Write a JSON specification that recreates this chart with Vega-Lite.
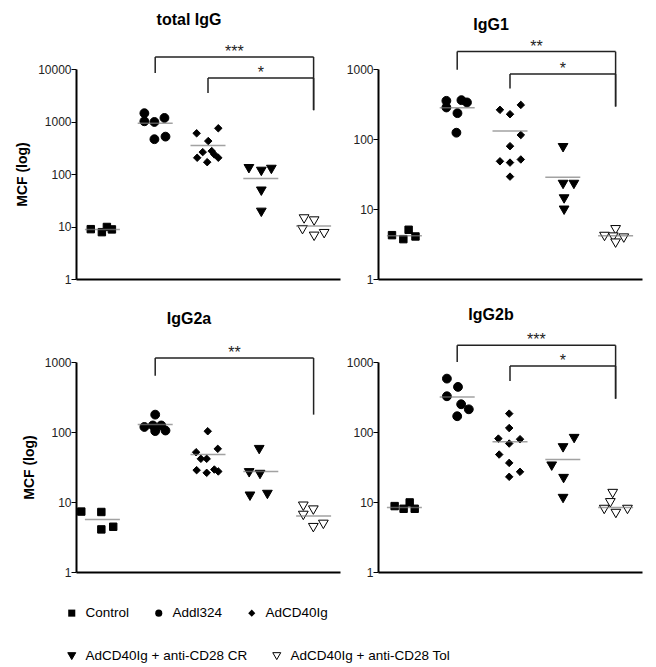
{
  "$schema": "https://vega.github.io/schema/vega-lite/v6.json",
  "background": "white",
  "padding": {"left": 15, "top": 11, "right": 5, "bottom": 2},
  "config": {
    "view": {"stroke": null},
    "font": "Liberation Sans",
    "axis": {"grid": false, "domainColor": "black", "domainWidth": 2, "tickColor": "black", "tickSize": 5, "labelFont": "Liberation Sans", "labelFontSize": 12, "labelColor": "#222", "labelPadding": 0, "titleFont": "Liberation Sans", "titleFontSize": 14, "titleFontWeight": "bold", "titleColor": "black", "titlePadding": 8},
    "title": {"font": "Liberation Sans", "fontSize": 16, "fontWeight": "bold", "color": "black", "dx": -19},
    "legend": {"labelFont": "Liberation Sans", "labelFontSize": 13.5, "labelColor": "black", "labelLimit": 0, "labelOffset": 7, "columnPadding": 22, "symbolStrokeColor": "black", "symbolStrokeWidth": 1, "symbolOpacity": 1}
  },
  "datasets": {
    "pts": [
      {"panel": "total IgG", "group": "Control", "value": 8.9, "j": -0.44},
      {"panel": "total IgG", "group": "Control", "value": 7.8, "j": -0.02},
      {"panel": "total IgG", "group": "Control", "value": 9.8, "j": 0.17},
      {"panel": "total IgG", "group": "Control", "value": 8.8, "j": 0.36},
      {"panel": "total IgG", "group": "Addl324", "value": 1440, "j": -0.41},
      {"panel": "total IgG", "group": "Addl324", "value": 1010, "j": -0.41},
      {"panel": "total IgG", "group": "Addl324", "value": 980, "j": -0.03},
      {"panel": "total IgG", "group": "Addl324", "value": 1170, "j": 0.35},
      {"panel": "total IgG", "group": "Addl324", "value": 460, "j": -0.03},
      {"panel": "total IgG", "group": "Addl324", "value": 515, "j": 0.39},
      {"panel": "total IgG", "group": "AdCD40Ig", "value": 596, "j": -0.43},
      {"panel": "total IgG", "group": "AdCD40Ig", "value": 743, "j": 0.39},
      {"panel": "total IgG", "group": "AdCD40Ig", "value": 424, "j": 0.01},
      {"panel": "total IgG", "group": "AdCD40Ig", "value": 261, "j": -0.2},
      {"panel": "total IgG", "group": "AdCD40Ig", "value": 204, "j": -0.41},
      {"panel": "total IgG", "group": "AdCD40Ig", "value": 273, "j": 0.14},
      {"panel": "total IgG", "group": "AdCD40Ig", "value": 236, "j": 0.24},
      {"panel": "total IgG", "group": "AdCD40Ig", "value": 168, "j": -0.03},
      {"panel": "total IgG", "group": "AdCD40Ig", "value": 204, "j": 0.39},
      {"panel": "total IgG", "group": "AdCD40Ig + anti-CD28 CR", "value": 126, "j": -0.45},
      {"panel": "total IgG", "group": "AdCD40Ig + anti-CD28 CR", "value": 112, "j": 0.02},
      {"panel": "total IgG", "group": "AdCD40Ig + anti-CD28 CR", "value": 122, "j": 0.4},
      {"panel": "total IgG", "group": "AdCD40Ig + anti-CD28 CR", "value": 47, "j": 0.02},
      {"panel": "total IgG", "group": "AdCD40Ig + anti-CD28 CR", "value": 18.6, "j": 0.02},
      {"panel": "total IgG", "group": "AdCD40Ig + anti-CD28 Tol", "value": 13.9, "j": -0.36},
      {"panel": "total IgG", "group": "AdCD40Ig + anti-CD28 Tol", "value": 12.7, "j": 0.02},
      {"panel": "total IgG", "group": "AdCD40Ig + anti-CD28 Tol", "value": 8.7, "j": -0.42},
      {"panel": "total IgG", "group": "AdCD40Ig + anti-CD28 Tol", "value": 6.5, "j": 0.02},
      {"panel": "total IgG", "group": "AdCD40Ig + anti-CD28 Tol", "value": 7.3, "j": 0.4},

      {"panel": "IgG1", "group": "Control", "value": 4.23, "j": -0.47},
      {"panel": "IgG1", "group": "Control", "value": 3.71, "j": -0.04},
      {"panel": "IgG1", "group": "Control", "value": 5.05, "j": 0.16},
      {"panel": "IgG1", "group": "Control", "value": 4.05, "j": 0.42},
      {"panel": "IgG1", "group": "Addl324", "value": 351, "j": -0.41},
      {"panel": "IgG1", "group": "Addl324", "value": 282, "j": -0.41},
      {"panel": "IgG1", "group": "Addl324", "value": 359, "j": 0.16},
      {"panel": "IgG1", "group": "Addl324", "value": 333, "j": 0.37},
      {"panel": "IgG1", "group": "Addl324", "value": 234, "j": 0.01},
      {"panel": "IgG1", "group": "Addl324", "value": 123, "j": -0.03},
      {"panel": "IgG1", "group": "AdCD40Ig", "value": 261, "j": -0.38},
      {"panel": "IgG1", "group": "AdCD40Ig", "value": 226, "j": 0},
      {"panel": "IgG1", "group": "AdCD40Ig", "value": 307, "j": 0.41},
      {"panel": "IgG1", "group": "AdCD40Ig", "value": 114, "j": 0.41},
      {"panel": "IgG1", "group": "AdCD40Ig", "value": 79, "j": 0},
      {"panel": "IgG1", "group": "AdCD40Ig", "value": 48, "j": -0.38},
      {"panel": "IgG1", "group": "AdCD40Ig", "value": 46, "j": 0},
      {"panel": "IgG1", "group": "AdCD40Ig", "value": 51, "j": 0.41},
      {"panel": "IgG1", "group": "AdCD40Ig", "value": 29, "j": 0},
      {"panel": "IgG1", "group": "AdCD40Ig + anti-CD28 CR", "value": 75, "j": 0.01},
      {"panel": "IgG1", "group": "AdCD40Ig + anti-CD28 CR", "value": 22.4, "j": 0.01},
      {"panel": "IgG1", "group": "AdCD40Ig + anti-CD28 CR", "value": 22.4, "j": 0.42},
      {"panel": "IgG1", "group": "AdCD40Ig + anti-CD28 CR", "value": 13.9, "j": 0.05},
      {"panel": "IgG1", "group": "AdCD40Ig + anti-CD28 CR", "value": 9.6, "j": 0.05},
      {"panel": "IgG1", "group": "AdCD40Ig + anti-CD28 Tol", "value": 5.05, "j": 0},
      {"panel": "IgG1", "group": "AdCD40Ig + anti-CD28 Tol", "value": 4.05, "j": -0.42},
      {"panel": "IgG1", "group": "AdCD40Ig + anti-CD28 Tol", "value": 3.97, "j": -0.09},
      {"panel": "IgG1", "group": "AdCD40Ig + anti-CD28 Tol", "value": 3.84, "j": 0.31},
      {"panel": "IgG1", "group": "AdCD40Ig + anti-CD28 Tol", "value": 3.25, "j": 0},

      {"panel": "IgG2a", "group": "Control", "value": 7.3, "j": -0.8},
      {"panel": "IgG2a", "group": "Control", "value": 7.2, "j": -0.04},
      {"panel": "IgG2a", "group": "Control", "value": 4.06, "j": -0.04},
      {"panel": "IgG2a", "group": "Control", "value": 4.43, "j": 0.41},
      {"panel": "IgG2a", "group": "Addl324", "value": 118, "j": -0.41},
      {"panel": "IgG2a", "group": "Addl324", "value": 177, "j": 0},
      {"panel": "IgG2a", "group": "Addl324", "value": 124, "j": -0.09},
      {"panel": "IgG2a", "group": "Addl324", "value": 103, "j": 0},
      {"panel": "IgG2a", "group": "Addl324", "value": 105, "j": 0.39},
      {"panel": "IgG2a", "group": "Addl324", "value": 124, "j": 0.23},
      {"panel": "IgG2a", "group": "AdCD40Ig", "value": 102.5, "j": -0.01},
      {"panel": "IgG2a", "group": "AdCD40Ig", "value": 51.4, "j": -0.45},
      {"panel": "IgG2a", "group": "AdCD40Ig", "value": 57.5, "j": 0.37},
      {"panel": "IgG2a", "group": "AdCD40Ig", "value": 41.4, "j": -0.27},
      {"panel": "IgG2a", "group": "AdCD40Ig", "value": 41.4, "j": -0.05},
      {"panel": "IgG2a", "group": "AdCD40Ig", "value": 28.5, "j": -0.43},
      {"panel": "IgG2a", "group": "AdCD40Ig", "value": 26.1, "j": -0.05},
      {"panel": "IgG2a", "group": "AdCD40Ig", "value": 29.1, "j": 0.24},
      {"panel": "IgG2a", "group": "AdCD40Ig", "value": 27.3, "j": 0.39},
      {"panel": "IgG2a", "group": "AdCD40Ig + anti-CD28 CR", "value": 56, "j": -0.06},
      {"panel": "IgG2a", "group": "AdCD40Ig + anti-CD28 CR", "value": 26.1, "j": -0.44},
      {"panel": "IgG2a", "group": "AdCD40Ig + anti-CD28 CR", "value": 24.7, "j": -0.03},
      {"panel": "IgG2a", "group": "AdCD40Ig + anti-CD28 CR", "value": 12.1, "j": -0.41},
      {"panel": "IgG2a", "group": "AdCD40Ig + anti-CD28 CR", "value": 12.8, "j": 0.25},
      {"panel": "IgG2a", "group": "AdCD40Ig + anti-CD28 Tol", "value": 8.7, "j": -0.39},
      {"panel": "IgG2a", "group": "AdCD40Ig + anti-CD28 Tol", "value": 7.66, "j": -0.01},
      {"panel": "IgG2a", "group": "AdCD40Ig + anti-CD28 Tol", "value": 6.43, "j": -0.39},
      {"panel": "IgG2a", "group": "AdCD40Ig + anti-CD28 Tol", "value": 4.3, "j": -0.01},
      {"panel": "IgG2a", "group": "AdCD40Ig + anti-CD28 Tol", "value": 4.79, "j": 0.37},

      {"panel": "IgG2b", "group": "Control", "value": 8.74, "j": -0.37},
      {"panel": "IgG2b", "group": "Control", "value": 8.0, "j": -0.03},
      {"panel": "IgG2b", "group": "Control", "value": 9.86, "j": 0.2},
      {"panel": "IgG2b", "group": "Control", "value": 8.0, "j": 0.39},
      {"panel": "IgG2b", "group": "Addl324", "value": 579, "j": -0.39},
      {"panel": "IgG2b", "group": "Addl324", "value": 441, "j": 0.03},
      {"panel": "IgG2b", "group": "Addl324", "value": 324, "j": -0.39},
      {"panel": "IgG2b", "group": "Addl324", "value": 249, "j": 0.15},
      {"panel": "IgG2b", "group": "Addl324", "value": 211, "j": 0.44},
      {"panel": "IgG2b", "group": "Addl324", "value": 168, "j": 0},
      {"panel": "IgG2b", "group": "AdCD40Ig", "value": 183, "j": -0.03},
      {"panel": "IgG2b", "group": "AdCD40Ig", "value": 114, "j": -0.03},
      {"panel": "IgG2b", "group": "AdCD40Ig", "value": 80.5, "j": -0.44},
      {"panel": "IgG2b", "group": "AdCD40Ig", "value": 68.4, "j": -0.03},
      {"panel": "IgG2b", "group": "AdCD40Ig", "value": 78.9, "j": 0.38},
      {"panel": "IgG2b", "group": "AdCD40Ig", "value": 47.6, "j": -0.41},
      {"panel": "IgG2b", "group": "AdCD40Ig", "value": 36.2, "j": -0.03},
      {"panel": "IgG2b", "group": "AdCD40Ig", "value": 27, "j": 0.38},
      {"panel": "IgG2b", "group": "AdCD40Ig", "value": 22.9, "j": -0.03},
      {"panel": "IgG2b", "group": "AdCD40Ig + anti-CD28 CR", "value": 80.5, "j": 0.43},
      {"panel": "IgG2b", "group": "AdCD40Ig + anti-CD28 CR", "value": 59.3, "j": 0.01},
      {"panel": "IgG2b", "group": "AdCD40Ig + anti-CD28 CR", "value": 32.5, "j": -0.42},
      {"panel": "IgG2b", "group": "AdCD40Ig + anti-CD28 CR", "value": 21.6, "j": 0.03},
      {"panel": "IgG2b", "group": "AdCD40Ig + anti-CD28 CR", "value": 11.2, "j": 0.01},
      {"panel": "IgG2b", "group": "AdCD40Ig + anti-CD28 Tol", "value": 13.2, "j": -0.11},
      {"panel": "IgG2b", "group": "AdCD40Ig + anti-CD28 Tol", "value": 9.74, "j": -0.2},
      {"panel": "IgG2b", "group": "AdCD40Ig + anti-CD28 Tol", "value": 7.82, "j": -0.43},
      {"panel": "IgG2b", "group": "AdCD40Ig + anti-CD28 Tol", "value": 6.85, "j": 0.01},
      {"panel": "IgG2b", "group": "AdCD40Ig + anti-CD28 Tol", "value": 7.82, "j": 0.45}
    ],
    "means": [
      {"panel": "total IgG", "group": "Control", "mean": 8.8},
      {"panel": "total IgG", "group": "Addl324", "mean": 926},
      {"panel": "total IgG", "group": "AdCD40Ig", "mean": 350},
      {"panel": "total IgG", "group": "AdCD40Ig + anti-CD28 CR", "mean": 82},
      {"panel": "total IgG", "group": "AdCD40Ig + anti-CD28 Tol", "mean": 10.2},
      {"panel": "IgG1", "group": "Control", "mean": 4.14},
      {"panel": "IgG1", "group": "Addl324", "mean": 280},
      {"panel": "IgG1", "group": "AdCD40Ig", "mean": 130},
      {"panel": "IgG1", "group": "AdCD40Ig + anti-CD28 CR", "mean": 28.5},
      {"panel": "IgG1", "group": "AdCD40Ig + anti-CD28 Tol", "mean": 4.14},
      {"panel": "IgG2a", "group": "Control", "mean": 5.64},
      {"panel": "IgG2a", "group": "Addl324", "mean": 128},
      {"panel": "IgG2a", "group": "AdCD40Ig", "mean": 47.7},
      {"panel": "IgG2a", "group": "AdCD40Ig + anti-CD28 CR", "mean": 27.3},
      {"panel": "IgG2a", "group": "AdCD40Ig + anti-CD28 Tol", "mean": 6.3},
      {"panel": "IgG2b", "group": "Control", "mean": 8.37},
      {"panel": "IgG2b", "group": "Addl324", "mean": 317},
      {"panel": "IgG2b", "group": "AdCD40Ig", "mean": 72.3},
      {"panel": "IgG2b", "group": "AdCD40Ig + anti-CD28 CR", "mean": 40.4},
      {"panel": "IgG2b", "group": "AdCD40Ig + anti-CD28 Tol", "mean": 8.35}
    ],
    "br": [
      {"panel": "total IgG", "from": "Addl324", "to": "AdCD40Ig + anti-CD28 Tol", "top": 16980, "leftEnd": 8380, "rightEnd": 1641, "label": "***", "labelAt": "AdCD40Ig", "lj": 1},
      {"panel": "total IgG", "from": "AdCD40Ig", "to": "AdCD40Ig + anti-CD28 Tol", "top": 6726, "leftEnd": 3473, "rightEnd": 1641, "label": "*", "labelAt": "AdCD40Ig + anti-CD28 CR", "lj": 0},
      {"panel": "IgG1", "from": "Addl324", "to": "AdCD40Ig + anti-CD28 Tol", "top": 1771, "leftEnd": 977, "rightEnd": 291, "label": "**", "labelAt": "AdCD40Ig", "lj": 1},
      {"panel": "IgG1", "from": "AdCD40Ig", "to": "AdCD40Ig + anti-CD28 Tol", "top": 847, "leftEnd": 528, "rightEnd": 291, "label": "*", "labelAt": "AdCD40Ig + anti-CD28 CR", "lj": 0},
      {"panel": "IgG2a", "from": "Addl324", "to": "AdCD40Ig + anti-CD28 Tol", "top": 1140, "leftEnd": 638, "rightEnd": 177, "label": "**", "labelAt": "AdCD40Ig", "lj": 1},
      {"panel": "IgG2b", "from": "Addl324", "to": "AdCD40Ig + anti-CD28 Tol", "top": 1730, "leftEnd": 1000, "rightEnd": 299, "label": "***", "labelAt": "AdCD40Ig", "lj": 1},
      {"panel": "IgG2b", "from": "AdCD40Ig", "to": "AdCD40Ig + anti-CD28 Tol", "top": 877, "leftEnd": 536, "rightEnd": 299, "label": "*", "labelAt": "AdCD40Ig + anti-CD28 CR", "lj": 0}
    ]
  },
  "concat": [
    {
      "width": 264, "height": 210,
      "title": {"text": "total IgG", "offset": 16},
      "layer": [
        {"data": {"name": "pts"}, "transform": [{"filter": "datum.panel == 'total IgG'"}],
         "mark": {"type": "point", "opacity": 1, "stroke": "black", "strokeWidth": 1},
         "encoding": {
           "x": {"field": "group", "type": "nominal", "title": null, "scale": {"type": "band", "domain": ["Control", "Addl324", "AdCD40Ig", "AdCD40Ig + anti-CD28 CR", "AdCD40Ig + anti-CD28 Tol"], "paddingInner": 0, "paddingOuter": 0}, "axis": {"ticks": false, "labels": false}},
           "xOffset": {"field": "j", "type": "quantitative", "scale": {"domain": [-1, 1]}},
           "y": {"field": "value", "type": "quantitative", "title": "MCF (log)", "scale": {"type": "log", "domain": [1, 10000], "nice": false}, "axis": {"values": [1, 10, 100, 1000, 10000], "format": "d"}},
           "shape": {"field": "group", "type": "nominal", "title": null, "scale": {"domain": ["Control", "Addl324", "AdCD40Ig", "AdCD40Ig + anti-CD28 CR", "AdCD40Ig + anti-CD28 Tol"], "range": ["square", "circle", "diamond", "triangle-down", "triangle-down"]},
             "legend": {"values": ["Control", "Addl324", "AdCD40Ig"], "orient": "none", "legendX": -11, "legendY": 537, "direction": "horizontal", "symbolSize": 50,
               "encode": {"symbols": {"update": {"fill": {"value": "black"}, "stroke": {"value": "black"}, "strokeWidth": {"value": 1}, "opacity": {"value": 1}}}}}},
           "fill": {"field": "group", "type": "nominal", "title": null, "scale": {"domain": ["AdCD40Ig + anti-CD28 Tol", "AdCD40Ig + anti-CD28 CR", "AdCD40Ig", "Addl324", "Control"], "range": ["white", "black", "black", "black", "black"]},
             "legend": {"values": ["AdCD40Ig + anti-CD28 CR", "AdCD40Ig + anti-CD28 Tol"], "orient": "none", "legendX": -11, "legendY": 580, "direction": "horizontal", "symbolType": "triangle-down", "symbolSize": 64,
               "encode": {"symbols": {"update": {"stroke": {"value": "black"}, "strokeWidth": {"value": 1}, "opacity": {"value": 1}}}}}},
           "size": {"field": "group", "type": "nominal", "legend": null, "scale": {"type": "ordinal", "domain": ["Addl324", "Control", "AdCD40Ig", "AdCD40Ig + anti-CD28 CR", "AdCD40Ig + anti-CD28 Tol"], "range": [78, 55, 56, 95, 95]}}
         }},
        {"data": {"name": "means"}, "transform": [{"filter": "datum.panel == 'total IgG'"}],
         "mark": {"type": "tick", "color": "#7a7a7a", "size": 35, "thickness": 1.5},
         "encoding": {"x": {"field": "group", "type": "nominal", "title": null}, "y": {"field": "mean", "type": "quantitative", "title": "MCF (log)"}}},
        {"data": {"name": "br"}, "transform": [{"filter": "datum.panel == 'total IgG'"}],
         "mark": {"type": "rule", "color": "#222", "strokeWidth": 1.5},
         "encoding": {"x": {"field": "from", "type": "nominal", "bandPosition": 0.5, "title": null}, "x2": {"field": "to", "bandPosition": 0.5}, "y": {"field": "top", "type": "quantitative", "title": "MCF (log)"}}},
        {"data": {"name": "br"}, "transform": [{"filter": "datum.panel == 'total IgG'"}],
         "mark": {"type": "rule", "color": "#222", "strokeWidth": 1.5},
         "encoding": {"x": {"field": "from", "type": "nominal", "bandPosition": 0.5, "title": null}, "y": {"field": "top", "type": "quantitative", "title": "MCF (log)"}, "y2": {"field": "leftEnd"}}},
        {"data": {"name": "br"}, "transform": [{"filter": "datum.panel == 'total IgG'"}],
         "mark": {"type": "rule", "color": "#222", "strokeWidth": 1.5},
         "encoding": {"x": {"field": "to", "type": "nominal", "bandPosition": 0.5, "title": null}, "y": {"field": "top", "type": "quantitative", "title": "MCF (log)"}, "y2": {"field": "rightEnd"}}},
        {"data": {"name": "br"}, "transform": [{"filter": "datum.panel == 'total IgG'"}],
         "mark": {"type": "text", "baseline": "bottom", "fontSize": 16, "dy": 3, "font": "Liberation Sans", "color": "#222"},
         "encoding": {"x": {"field": "labelAt", "type": "nominal", "title": null}, "xOffset": {"field": "lj", "type": "quantitative"}, "y": {"field": "top", "type": "quantitative", "title": "MCF (log)"}, "text": {"field": "label"}}}
      ]
    },
    {
      "width": 264, "height": 210,
      "title": {"text": "IgG1", "offset": 6},
      "layer": [
        {"data": {"name": "pts"}, "transform": [{"filter": "datum.panel == 'IgG1'"}],
         "mark": {"type": "point", "opacity": 1, "stroke": "black", "strokeWidth": 1},
         "encoding": {
           "x": {"field": "group", "type": "nominal", "title": null, "scale": {"type": "band", "domain": ["Control", "Addl324", "AdCD40Ig", "AdCD40Ig + anti-CD28 CR", "AdCD40Ig + anti-CD28 Tol"], "paddingInner": 0, "paddingOuter": 0}, "axis": {"ticks": false, "labels": false}},
           "xOffset": {"field": "j", "type": "quantitative", "scale": {"domain": [-1, 1]}},
           "y": {"field": "value", "type": "quantitative", "title": null, "scale": {"type": "log", "domain": [1, 1000], "nice": false}, "axis": {"values": [1, 10, 100, 1000], "format": "d"}},
           "shape": {"field": "group", "type": "nominal", "title": null, "scale": {"domain": ["Control", "Addl324", "AdCD40Ig", "AdCD40Ig + anti-CD28 CR", "AdCD40Ig + anti-CD28 Tol"], "range": ["square", "circle", "diamond", "triangle-down", "triangle-down"]}},
           "fill": {"field": "group", "type": "nominal", "title": null, "scale": {"domain": ["AdCD40Ig + anti-CD28 Tol", "AdCD40Ig + anti-CD28 CR", "AdCD40Ig", "Addl324", "Control"], "range": ["white", "black", "black", "black", "black"]}},
           "size": {"field": "group", "type": "nominal", "legend": null, "scale": {"type": "ordinal", "domain": ["Addl324", "Control", "AdCD40Ig", "AdCD40Ig + anti-CD28 CR", "AdCD40Ig + anti-CD28 Tol"], "range": [78, 55, 56, 95, 95]}}
         }},
        {"data": {"name": "means"}, "transform": [{"filter": "datum.panel == 'IgG1'"}],
         "mark": {"type": "tick", "color": "#7a7a7a", "size": 35, "thickness": 1.5},
         "encoding": {"x": {"field": "group", "type": "nominal", "title": null}, "y": {"field": "mean", "type": "quantitative", "title": null}}},
        {"data": {"name": "br"}, "transform": [{"filter": "datum.panel == 'IgG1'"}],
         "mark": {"type": "rule", "color": "#222", "strokeWidth": 1.5},
         "encoding": {"x": {"field": "from", "type": "nominal", "bandPosition": 0.5, "title": null}, "x2": {"field": "to", "bandPosition": 0.5}, "y": {"field": "top", "type": "quantitative", "title": null}}},
        {"data": {"name": "br"}, "transform": [{"filter": "datum.panel == 'IgG1'"}],
         "mark": {"type": "rule", "color": "#222", "strokeWidth": 1.5},
         "encoding": {"x": {"field": "from", "type": "nominal", "bandPosition": 0.5, "title": null}, "y": {"field": "top", "type": "quantitative", "title": null}, "y2": {"field": "leftEnd"}}},
        {"data": {"name": "br"}, "transform": [{"filter": "datum.panel == 'IgG1'"}],
         "mark": {"type": "rule", "color": "#222", "strokeWidth": 1.5},
         "encoding": {"x": {"field": "to", "type": "nominal", "bandPosition": 0.5, "title": null}, "y": {"field": "top", "type": "quantitative", "title": null}, "y2": {"field": "rightEnd"}}},
        {"data": {"name": "br"}, "transform": [{"filter": "datum.panel == 'IgG1'"}],
         "mark": {"type": "text", "baseline": "bottom", "fontSize": 16, "dy": 3, "font": "Liberation Sans", "color": "#222"},
         "encoding": {"x": {"field": "labelAt", "type": "nominal", "title": null}, "xOffset": {"field": "lj", "type": "quantitative"}, "y": {"field": "top", "type": "quantitative", "title": null}, "text": {"field": "label"}}}
      ]
    },
    {
      "width": 264, "height": 210,
      "title": {"text": "IgG2a", "offset": 18},
      "layer": [
        {"data": {"name": "pts"}, "transform": [{"filter": "datum.panel == 'IgG2a'"}],
         "mark": {"type": "point", "opacity": 1, "stroke": "black", "strokeWidth": 1},
         "encoding": {
           "x": {"field": "group", "type": "nominal", "title": null, "scale": {"type": "band", "domain": ["Control", "Addl324", "AdCD40Ig", "AdCD40Ig + anti-CD28 CR", "AdCD40Ig + anti-CD28 Tol"], "paddingInner": 0, "paddingOuter": 0}, "axis": {"ticks": false, "labels": false}},
           "xOffset": {"field": "j", "type": "quantitative", "scale": {"domain": [-1, 1]}},
           "y": {"field": "value", "type": "quantitative", "title": "MCF (log)", "scale": {"type": "log", "domain": [1, 1000], "nice": false}, "axis": {"values": [1, 10, 100, 1000], "format": "d"}},
           "shape": {"field": "group", "type": "nominal", "title": null, "scale": {"domain": ["Control", "Addl324", "AdCD40Ig", "AdCD40Ig + anti-CD28 CR", "AdCD40Ig + anti-CD28 Tol"], "range": ["square", "circle", "diamond", "triangle-down", "triangle-down"]}},
           "fill": {"field": "group", "type": "nominal", "title": null, "scale": {"domain": ["AdCD40Ig + anti-CD28 Tol", "AdCD40Ig + anti-CD28 CR", "AdCD40Ig", "Addl324", "Control"], "range": ["white", "black", "black", "black", "black"]}},
           "size": {"field": "group", "type": "nominal", "legend": null, "scale": {"type": "ordinal", "domain": ["Addl324", "Control", "AdCD40Ig", "AdCD40Ig + anti-CD28 CR", "AdCD40Ig + anti-CD28 Tol"], "range": [78, 55, 56, 95, 95]}}
         }},
        {"data": {"name": "means"}, "transform": [{"filter": "datum.panel == 'IgG2a'"}],
         "mark": {"type": "tick", "color": "#7a7a7a", "size": 35, "thickness": 1.5},
         "encoding": {"x": {"field": "group", "type": "nominal", "title": null}, "y": {"field": "mean", "type": "quantitative", "title": "MCF (log)"}}},
        {"data": {"name": "br"}, "transform": [{"filter": "datum.panel == 'IgG2a'"}],
         "mark": {"type": "rule", "color": "#222", "strokeWidth": 1.5},
         "encoding": {"x": {"field": "from", "type": "nominal", "bandPosition": 0.5, "title": null}, "x2": {"field": "to", "bandPosition": 0.5}, "y": {"field": "top", "type": "quantitative", "title": "MCF (log)"}}},
        {"data": {"name": "br"}, "transform": [{"filter": "datum.panel == 'IgG2a'"}],
         "mark": {"type": "rule", "color": "#222", "strokeWidth": 1.5},
         "encoding": {"x": {"field": "from", "type": "nominal", "bandPosition": 0.5, "title": null}, "y": {"field": "top", "type": "quantitative", "title": "MCF (log)"}, "y2": {"field": "leftEnd"}}},
        {"data": {"name": "br"}, "transform": [{"filter": "datum.panel == 'IgG2a'"}],
         "mark": {"type": "rule", "color": "#222", "strokeWidth": 1.5},
         "encoding": {"x": {"field": "to", "type": "nominal", "bandPosition": 0.5, "title": null}, "y": {"field": "top", "type": "quantitative", "title": "MCF (log)"}, "y2": {"field": "rightEnd"}}},
        {"data": {"name": "br"}, "transform": [{"filter": "datum.panel == 'IgG2a'"}],
         "mark": {"type": "text", "baseline": "bottom", "fontSize": 16, "dy": 3, "font": "Liberation Sans", "color": "#222"},
         "encoding": {"x": {"field": "labelAt", "type": "nominal", "title": null}, "xOffset": {"field": "lj", "type": "quantitative"}, "y": {"field": "top", "type": "quantitative", "title": "MCF (log)"}, "text": {"field": "label"}}}
      ]
    },
    {
      "width": 264, "height": 210,
      "title": {"text": "IgG2b", "offset": 9},
      "layer": [
        {"data": {"name": "pts"}, "transform": [{"filter": "datum.panel == 'IgG2b'"}],
         "mark": {"type": "point", "opacity": 1, "stroke": "black", "strokeWidth": 1},
         "encoding": {
           "x": {"field": "group", "type": "nominal", "title": null, "scale": {"type": "band", "domain": ["Control", "Addl324", "AdCD40Ig", "AdCD40Ig + anti-CD28 CR", "AdCD40Ig + anti-CD28 Tol"], "paddingInner": 0, "paddingOuter": 0}, "axis": {"ticks": false, "labels": false}},
           "xOffset": {"field": "j", "type": "quantitative", "scale": {"domain": [-1, 1]}},
           "y": {"field": "value", "type": "quantitative", "title": null, "scale": {"type": "log", "domain": [1, 1000], "nice": false}, "axis": {"values": [1, 10, 100, 1000], "format": "d"}},
           "shape": {"field": "group", "type": "nominal", "title": null, "scale": {"domain": ["Control", "Addl324", "AdCD40Ig", "AdCD40Ig + anti-CD28 CR", "AdCD40Ig + anti-CD28 Tol"], "range": ["square", "circle", "diamond", "triangle-down", "triangle-down"]}},
           "fill": {"field": "group", "type": "nominal", "title": null, "scale": {"domain": ["AdCD40Ig + anti-CD28 Tol", "AdCD40Ig + anti-CD28 CR", "AdCD40Ig", "Addl324", "Control"], "range": ["white", "black", "black", "black", "black"]}},
           "size": {"field": "group", "type": "nominal", "legend": null, "scale": {"type": "ordinal", "domain": ["Addl324", "Control", "AdCD40Ig", "AdCD40Ig + anti-CD28 CR", "AdCD40Ig + anti-CD28 Tol"], "range": [78, 55, 56, 95, 95]}}
         }},
        {"data": {"name": "means"}, "transform": [{"filter": "datum.panel == 'IgG2b'"}],
         "mark": {"type": "tick", "color": "#7a7a7a", "size": 35, "thickness": 1.5},
         "encoding": {"x": {"field": "group", "type": "nominal", "title": null}, "y": {"field": "mean", "type": "quantitative", "title": null}}},
        {"data": {"name": "br"}, "transform": [{"filter": "datum.panel == 'IgG2b'"}],
         "mark": {"type": "rule", "color": "#222", "strokeWidth": 1.5},
         "encoding": {"x": {"field": "from", "type": "nominal", "bandPosition": 0.5, "title": null}, "x2": {"field": "to", "bandPosition": 0.5}, "y": {"field": "top", "type": "quantitative", "title": null}}},
        {"data": {"name": "br"}, "transform": [{"filter": "datum.panel == 'IgG2b'"}],
         "mark": {"type": "rule", "color": "#222", "strokeWidth": 1.5},
         "encoding": {"x": {"field": "from", "type": "nominal", "bandPosition": 0.5, "title": null}, "y": {"field": "top", "type": "quantitative", "title": null}, "y2": {"field": "leftEnd"}}},
        {"data": {"name": "br"}, "transform": [{"filter": "datum.panel == 'IgG2b'"}],
         "mark": {"type": "rule", "color": "#222", "strokeWidth": 1.5},
         "encoding": {"x": {"field": "to", "type": "nominal", "bandPosition": 0.5, "title": null}, "y": {"field": "top", "type": "quantitative", "title": null}, "y2": {"field": "rightEnd"}}},
        {"data": {"name": "br"}, "transform": [{"filter": "datum.panel == 'IgG2b'"}],
         "mark": {"type": "text", "baseline": "bottom", "fontSize": 16, "dy": 3, "font": "Liberation Sans", "color": "#222"},
         "encoding": {"x": {"field": "labelAt", "type": "nominal", "title": null}, "xOffset": {"field": "lj", "type": "quantitative"}, "y": {"field": "top", "type": "quantitative", "title": null}, "text": {"field": "label"}}}
      ]
    }
  ],
  "columns": 2,
  "spacing": {"row": 83, "column": 38},
  "bounds": "flush"
}
